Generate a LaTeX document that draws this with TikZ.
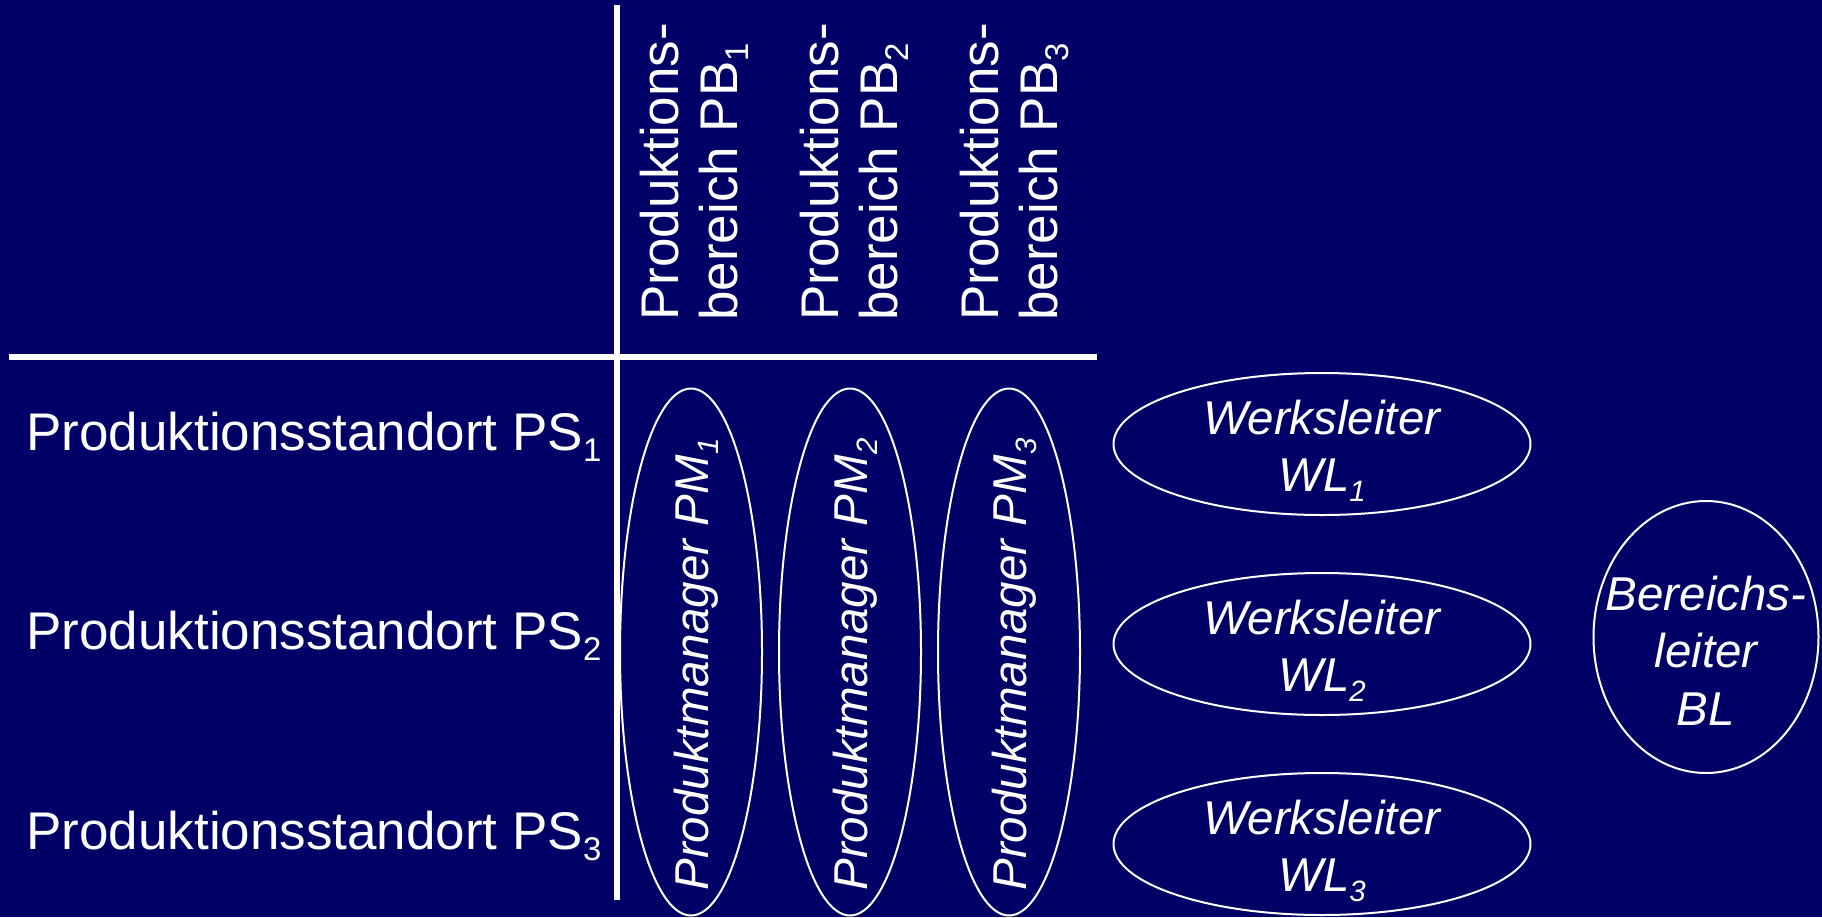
\documentclass[tikz,border=0pt]{standalone}
\usepackage{fontspec}
\setmainfont{Liberation Sans}
\usepackage{graphicx}
\usetikzlibrary{shapes.geometric}
\definecolor{bgblue}{RGB}{0,0,102}
\newcommand{\sbs}[1]{\raisebox{-0.22em}{\scalebox{0.62}{#1}}}
\begin{document}
\begin{tikzpicture}[x=0.5pt,y=-0.5pt,
  bigtxt/.style={text=white, inner sep=0pt, font=\fontsize{26.5}{32}\selectfont},
  elltxt/.style={text=white, inner sep=0pt, font=\fontsize{23.75}{29}\selectfont\itshape},
  ell/.style={draw=white, line width=1pt, ellipse, inner sep=0pt},
  vrule/.style={draw=white, line width=3pt},
  hrule/.style={draw=white, line width=2.6pt}]
\fill[bgblue] (0,0) rectangle (1822,917);
\useasboundingbox (0,0) rectangle (1822,917);

% axis lines
\coordinate (vtop) at (617,5);
\coordinate (vbot) at (617,900);
\coordinate (hleft) at (9,357);
\coordinate (hright) at (1097,357);
\draw[hrule] (hleft) -- (hright);
\draw[vrule] (vtop) -- (vbot);

% row labels
\node[bigtxt, anchor=base west] (ps1) at (26,450) {Produktionsstandort PS\sbs{1}};
\node[bigtxt, anchor=base west] (ps2) at (26,649) {Produktionsstandort PS\sbs{2}};
\node[bigtxt, anchor=base west] (ps3) at (26,849) {Produktionsstandort PS\sbs{3}};

% column headers
\node[bigtxt, rotate=90, anchor=base west] (h1a) at (678,321) {Produktions-};
\node[bigtxt, rotate=90, anchor=base west] (h1b) at (737,321) {bereich PB\sbs{1}};
\node[bigtxt, rotate=90, anchor=base west] (h2a) at (838,321) {Produktions-};
\node[bigtxt, rotate=90, anchor=base west] (h2b) at (897,321) {bereich PB\sbs{2}};
\node[bigtxt, rotate=90, anchor=base west] (h3a) at (998,321) {Produktions-};
\node[bigtxt, rotate=90, anchor=base west] (h3b) at (1057,321) {bereich PB\sbs{3}};

% product manager ellipses
\node[ell, minimum width=71pt, minimum height=263.5pt] (pm1) at (691,652) {};
\node[ell, minimum width=71pt, minimum height=263.5pt] (pm2) at (850,652) {};
\node[ell, minimum width=71pt, minimum height=263.5pt] (pm3) at (1009,652) {};
\node[elltxt, rotate=90, anchor=base west] (pm1t) at (708,891) {Produktmanager PM\sbs{1}};
\node[elltxt, rotate=90, anchor=base west] (pm2t) at (867,891) {Produktmanager PM\sbs{2}};
\node[elltxt, rotate=90, anchor=base west] (pm3t) at (1026,891) {Produktmanager PM\sbs{3}};

% plant manager ellipses
\node[ell, minimum width=208.5pt, minimum height=71pt] (wl1) at (1322,444) {};
\node[ell, minimum width=208.5pt, minimum height=71pt] (wl2) at (1322,644) {};
\node[ell, minimum width=208.5pt, minimum height=71pt] (wl3) at (1322,844) {};
\node[elltxt, anchor=base] (wl1a) at (1322,434) {Werksleiter};
\node[elltxt, anchor=base] (wl1b) at (1322,491) {WL\sbs{1}};
\node[elltxt, anchor=base] (wl2a) at (1322,634) {Werksleiter};
\node[elltxt, anchor=base] (wl2b) at (1322,691) {WL\sbs{2}};
\node[elltxt, anchor=base] (wl3a) at (1322,834) {Werksleiter};
\node[elltxt, anchor=base] (wl3b) at (1322,891) {WL\sbs{3}};

% division manager
\node[ell, minimum width=112.5pt, minimum height=136pt] (bl) at (1706,637) {};
\node[elltxt, anchor=base] (bla) at (1706,610) {Bereichs-};
\node[elltxt, anchor=base] (blb) at (1706,667) {leiter};
\node[elltxt, anchor=base] (blc) at (1706,725) {BL};
\end{tikzpicture}
\end{document}
